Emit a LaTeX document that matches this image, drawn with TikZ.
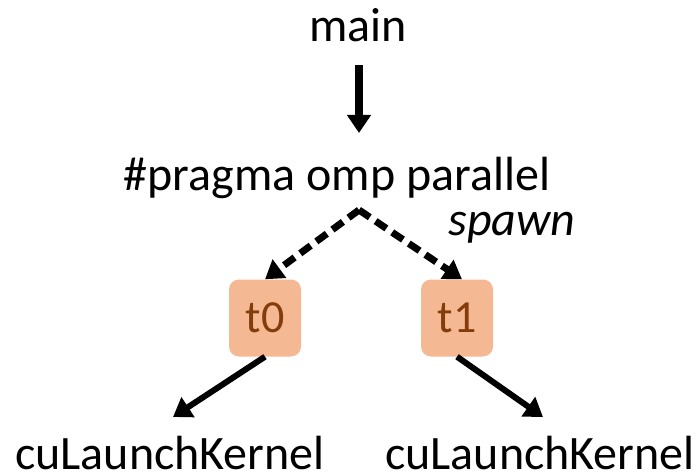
\documentclass[tikz,border=0pt]{standalone}
\usepackage{fontspec}
\setmainfont{Carlito}
\usetikzlibrary{arrows.meta}
\definecolor{boxfill}{HTML}{F4B993}
\definecolor{boxtext}{HTML}{843C0C}
\tikzset{
  lbl/.style={inner sep=0pt, font=\fontsize{48}{52}\selectfont},
  thread/.style={fill=boxfill, rounded corners=10pt, minimum width=72pt, minimum height=77pt,
    inner sep=0pt, text=boxtext, font=\fontsize{46}{50}\selectfont},
  solidarrow/.style={line width=6pt, -{Triangle[length=18pt, width=23pt]}},
  spawnarrow/.style={line width=7pt, dash pattern=on 13pt off 7pt, -{Triangle[length=18pt, width=22pt]}},
}
\begin{document}
\begin{tikzpicture}[x=1pt, y=1pt]
  \useasboundingbox (0,0) rectangle (699,475);
  \node[lbl, anchor=base] (main) at (358,433) {main};
  \node[lbl, anchor=base] (omp) at (337,285) {\#pragma omp parallel};
  \node[lbl, anchor=base, font=\fontsize{48}{52}\selectfont\itshape] (spawn) at (512,240) {spawn};
  \coordinate (fork) at (359,265);
  \node[thread] (t0) at (265,157) {t0};
  \node[thread] (t1) at (457,157) {t1};
  \node[lbl, anchor=base] (k0) at (170,6) {cuLaunchKernel};
  \node[lbl, anchor=base] (k1) at (540,6) {cuLaunchKernel};
  \coordinate (m1) at (359,410);
  \coordinate (m2) at (359,342);
  \draw[solidarrow, line width=8pt] (m1) -- (m2);
  \draw[spawnarrow] (fork) -- (t0.north);
  \draw[spawnarrow] (fork) -- ([xshift=5pt]t1.north);
  \draw[solidarrow] (t0.south) -- (173,58);
  \draw[solidarrow] (t1.south) -- (543,58);
\end{tikzpicture}
\end{document}
